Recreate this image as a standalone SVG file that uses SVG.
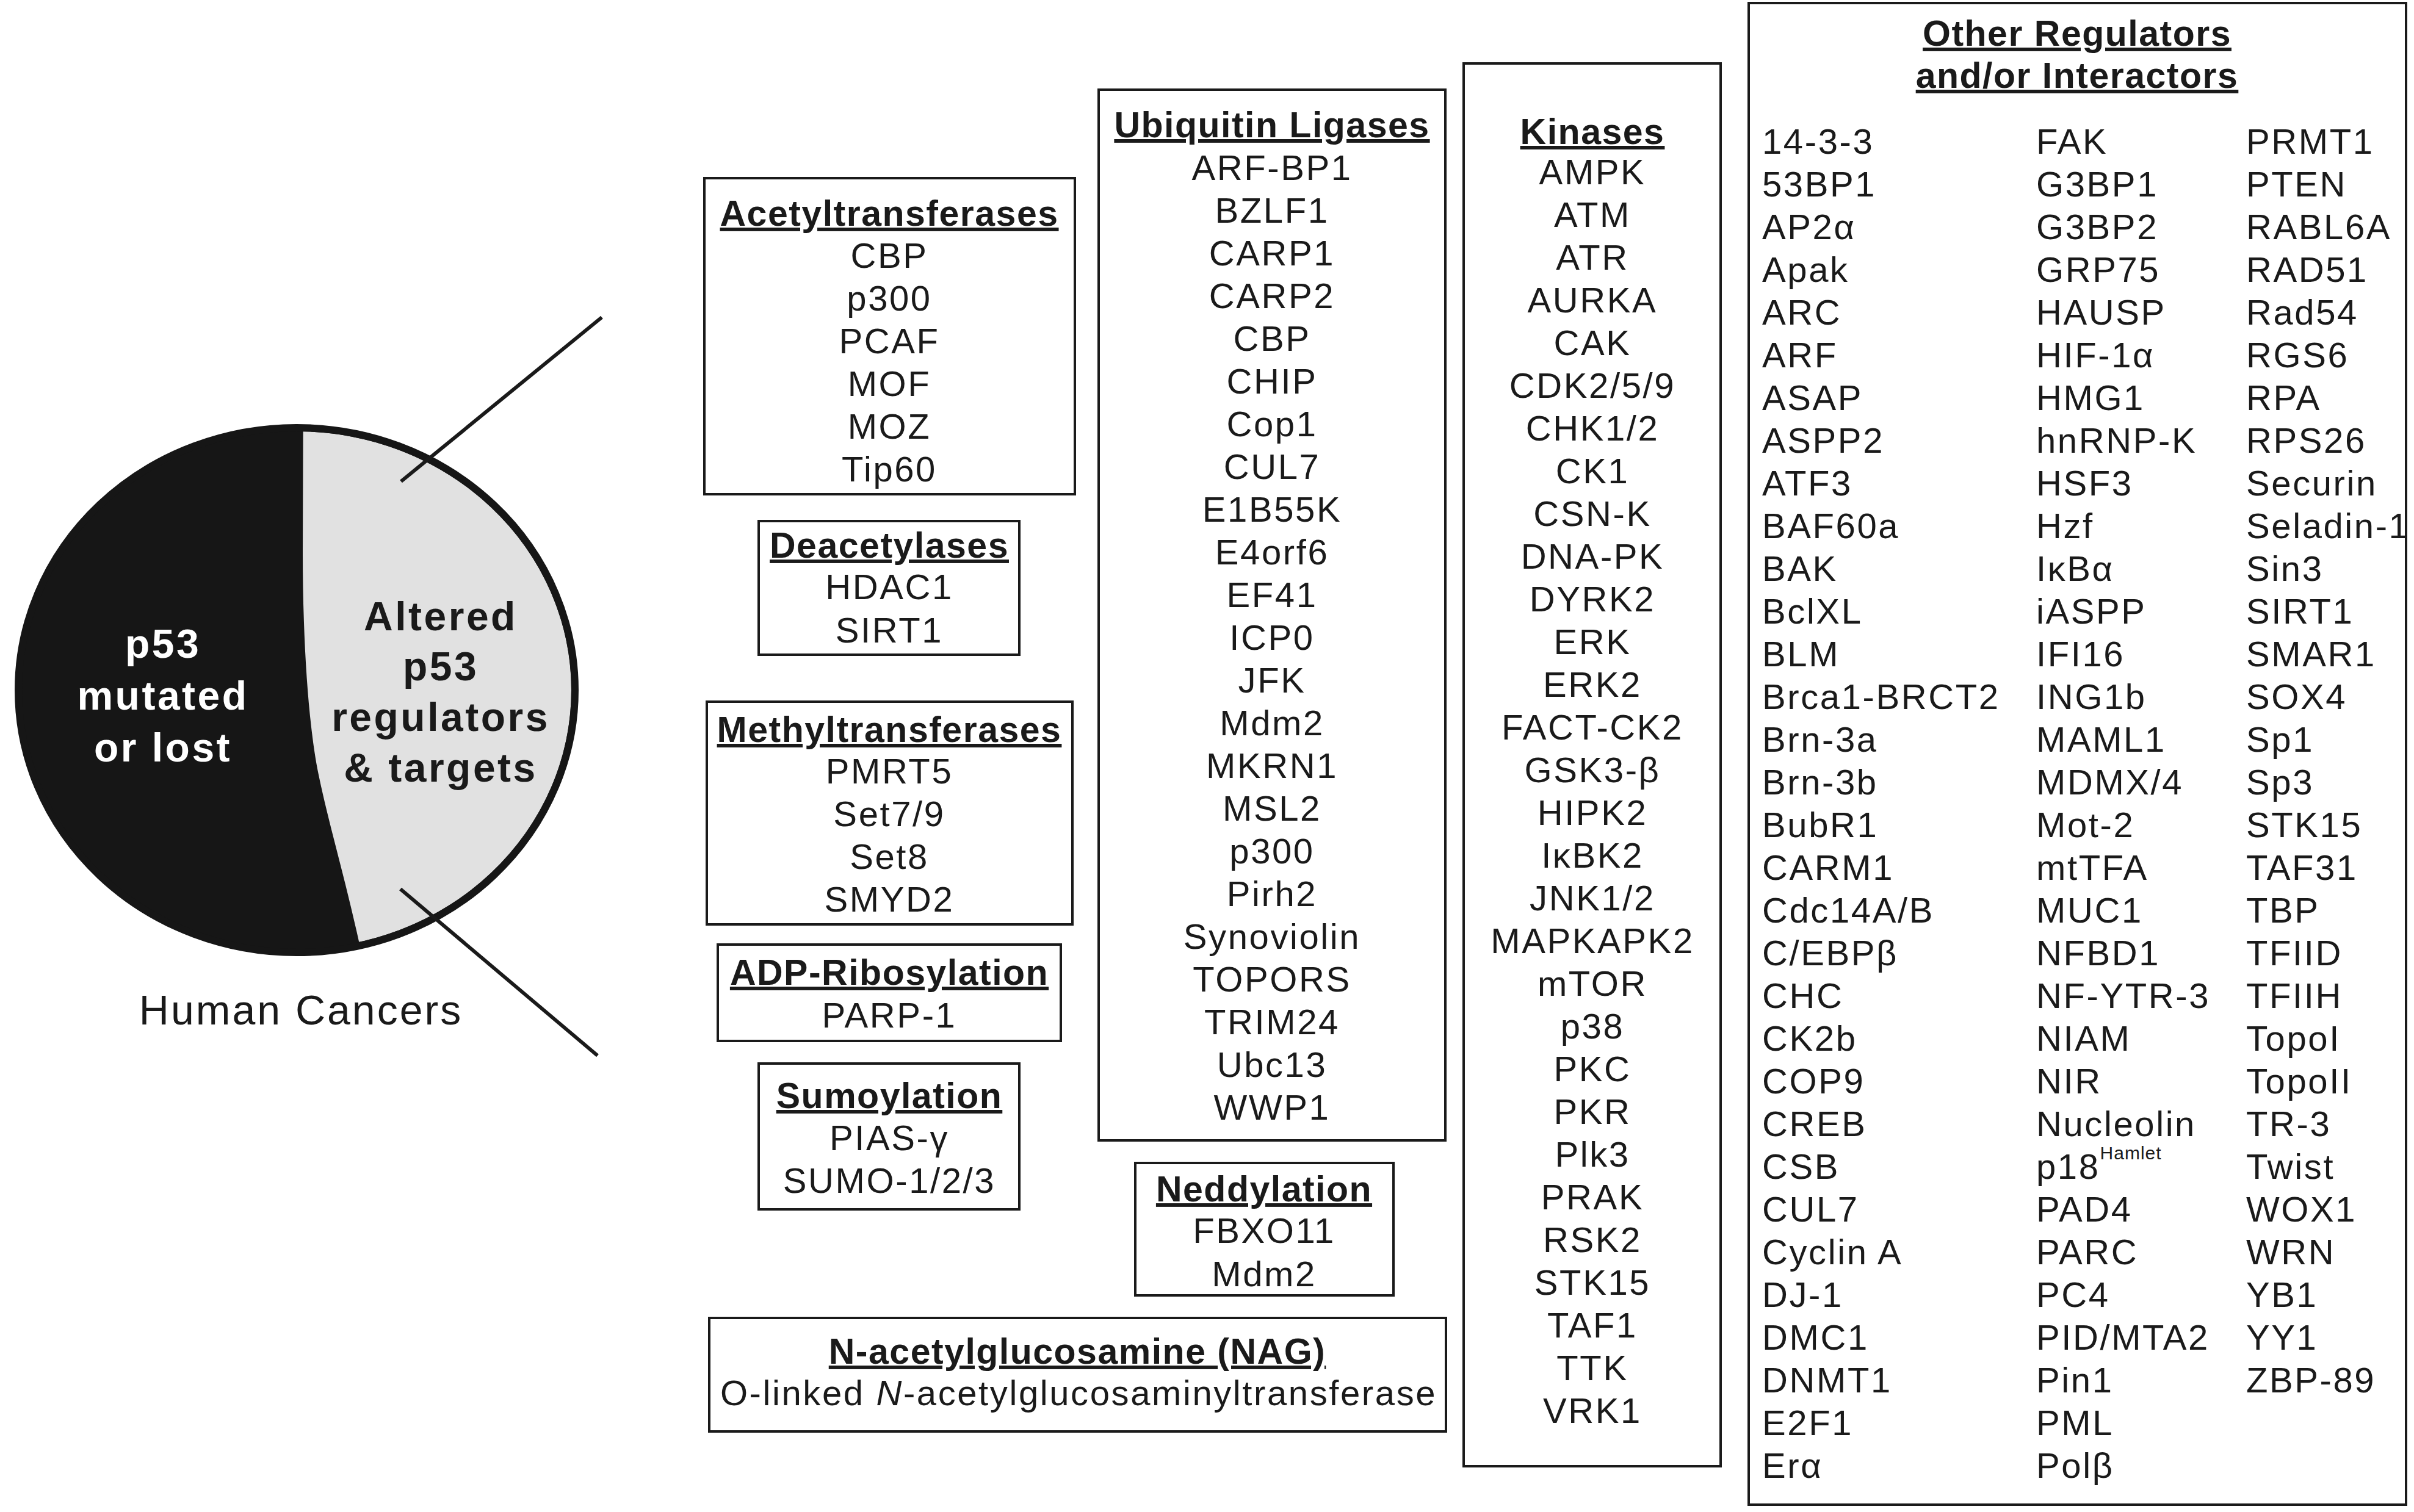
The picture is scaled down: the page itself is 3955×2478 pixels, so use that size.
<svg xmlns="http://www.w3.org/2000/svg" width="3955" height="2478" viewBox="0 0 3955 2478">
<defs>
<style>
.box{fill:none;stroke:#1a1a1a;stroke-width:4}
.t{font-family:"Liberation Sans",Arial,sans-serif;font-size:58px;letter-spacing:2.6px;fill:#1a1a1a}
.h{font-family:"Liberation Sans",Arial,sans-serif;font-size:59px;font-weight:bold;letter-spacing:1.5px;fill:#1a1a1a;text-decoration:underline}
.c{text-anchor:middle}
.pie{font-family:"Liberation Sans",Arial,sans-serif;font-size:66px;font-weight:bold;letter-spacing:3.5px;text-anchor:middle}
.conn{stroke:#1a1a1a;stroke-width:6;fill:none}
</style>
<clipPath id="inner"><ellipse cx="486" cy="1131" rx="450" ry="424"/></clipPath>
</defs>
<rect width="3955" height="2478" fill="#ffffff"/>

<g id="pie-chart">
<ellipse cx="486" cy="1131" rx="456" ry="430" fill="#161616"/>
<path d="M497,600 L496,905 C496,1050 505,1180 520,1260 C540,1360 570,1450 600,1600 L1000,1600 L1000,600 Z" fill="#e1e1e1" clip-path="url(#inner)"/>
<ellipse cx="486" cy="1131" rx="456" ry="430" fill="none" stroke="#161616" stroke-width="12"/>
<text class="pie" fill="#ffffff"><tspan x="267" y="1078">p53</tspan><tspan x="267" y="1163">mutated</tspan><tspan x="267" y="1248">or lost</tspan></text>
<text class="pie" fill="#1a1a1a"><tspan x="722" y="1033">Altered</tspan><tspan x="722" y="1115">p53</tspan><tspan x="722" y="1198">regulators</tspan><tspan x="722" y="1281">&amp; targets</tspan></text>
<text x="493" y="1679" class="c" font-family="Liberation Sans, Arial, sans-serif" font-size="68" letter-spacing="3" fill="#1a1a1a">Human Cancers</text>
</g>

<g id="connectors">
<line class="conn" x1="657" y1="789" x2="986" y2="520"/>
<line class="conn" x1="656" y1="1457" x2="979" y2="1730"/>
</g>

<g id="acetyltransferases">
<rect class="box" x="1154" y="292" width="607" height="518"/>
<text class="h c" x="1457" y="370">Acetyltransferases</text>
<text class="t c"><tspan x="1457" y="439">CBP</tspan><tspan x="1457" dy="70">p300</tspan><tspan x="1457" dy="70">PCAF</tspan><tspan x="1457" dy="70">MOF</tspan><tspan x="1457" dy="70">MOZ</tspan><tspan x="1457" dy="70">Tip60</tspan></text>
</g>

<g id="deacetylases">
<rect class="box" x="1243" y="854" width="427" height="219"/>
<text class="h c" x="1457" y="914">Deacetylases</text>
<text class="t c"><tspan x="1457" y="982">HDAC1</tspan><tspan x="1457" dy="71">SIRT1</tspan></text>
</g>

<g id="methyltransferases">
<rect class="box" x="1158" y="1150" width="599" height="365"/>
<text class="h c" x="1457" y="1216">Methyltransferases</text>
<text class="t c"><tspan x="1457" y="1284">PMRT5</tspan><tspan x="1457" dy="70">Set7/9</tspan><tspan x="1457" dy="70">Set8</tspan><tspan x="1457" dy="70">SMYD2</tspan></text>
</g>

<g id="adp-ribosylation">
<rect class="box" x="1176" y="1548" width="562" height="158"/>
<text class="h c" x="1457" y="1614">ADP-Ribosylation</text>
<text class="t c" x="1457" y="1684">PARP-1</text>
</g>

<g id="sumoylation">
<rect class="box" x="1243" y="1743" width="427" height="239"/>
<text class="h c" x="1457" y="1816">Sumoylation</text>
<text class="t c"><tspan x="1457" y="1885">PIAS-γ</tspan><tspan x="1457" dy="70">SUMO-1/2/3</tspan></text>
</g>

<g id="ubiquitin-ligases">
<rect class="box" x="1800" y="147" width="568" height="1722"/>
<text class="h c" x="2084" y="225">Ubiquitin Ligases</text>
<text class="t c"><tspan x="2084" y="295">ARF-BP1</tspan><tspan x="2084" dy="70">BZLF1</tspan><tspan x="2084" dy="70">CARP1</tspan><tspan x="2084" dy="70">CARP2</tspan><tspan x="2084" dy="70">CBP</tspan><tspan x="2084" dy="70">CHIP</tspan><tspan x="2084" dy="70">Cop1</tspan><tspan x="2084" dy="70">CUL7</tspan><tspan x="2084" dy="70">E1B55K</tspan><tspan x="2084" dy="70">E4orf6</tspan><tspan x="2084" dy="70">EF41</tspan><tspan x="2084" dy="70">ICP0</tspan><tspan x="2084" dy="70">JFK</tspan><tspan x="2084" dy="70">Mdm2</tspan><tspan x="2084" dy="70">MKRN1</tspan><tspan x="2084" dy="70">MSL2</tspan><tspan x="2084" dy="70">p300</tspan><tspan x="2084" dy="70">Pirh2</tspan><tspan x="2084" dy="70">Synoviolin</tspan><tspan x="2084" dy="70">TOPORS</tspan><tspan x="2084" dy="70">TRIM24</tspan><tspan x="2084" dy="70">Ubc13</tspan><tspan x="2084" dy="70">WWP1</tspan></text>
</g>

<g id="neddylation">
<rect class="box" x="1860" y="1906" width="423" height="217"/>
<text class="h c" x="2071" y="1969">Neddylation</text>
<text class="t c"><tspan x="2071" y="2037">FBXO11</tspan><tspan x="2071" dy="71">Mdm2</tspan></text>
</g>

<g id="nag">
<rect class="box" x="1162" y="2160" width="1207" height="186"/>
<text class="h c" x="1765" y="2235">N-acetylglucosamine (NAG)</text>
<text class="t c" x="1767" y="2303" letter-spacing="2.2">O-linked <tspan font-style="italic">N</tspan>-acetylglucosaminyltransferase</text>
</g>

<g id="kinases">
<rect class="box" x="2398" y="104" width="421" height="2299"/>
<text class="h c" x="2609" y="236">Kinases</text>
<text class="t c"><tspan x="2609" y="302">AMPK</tspan><tspan x="2609" dy="70">ATM</tspan><tspan x="2609" dy="70">ATR</tspan><tspan x="2609" dy="70">AURKA</tspan><tspan x="2609" dy="70">CAK</tspan><tspan x="2609" dy="70">CDK2/5/9</tspan><tspan x="2609" dy="70">CHK1/2</tspan><tspan x="2609" dy="70">CK1</tspan><tspan x="2609" dy="70">CSN-K</tspan><tspan x="2609" dy="70">DNA-PK</tspan><tspan x="2609" dy="70">DYRK2</tspan><tspan x="2609" dy="70">ERK</tspan><tspan x="2609" dy="70">ERK2</tspan><tspan x="2609" dy="70">FACT-CK2</tspan><tspan x="2609" dy="70">GSK3-β</tspan><tspan x="2609" dy="70">HIPK2</tspan><tspan x="2609" dy="70">IκBK2</tspan><tspan x="2609" dy="70">JNK1/2</tspan><tspan x="2609" dy="70">MAPKAPK2</tspan><tspan x="2609" dy="70">mTOR</tspan><tspan x="2609" dy="70">p38</tspan><tspan x="2609" dy="70">PKC</tspan><tspan x="2609" dy="70">PKR</tspan><tspan x="2609" dy="70">Plk3</tspan><tspan x="2609" dy="70">PRAK</tspan><tspan x="2609" dy="70">RSK2</tspan><tspan x="2609" dy="70">STK15</tspan><tspan x="2609" dy="70">TAF1</tspan><tspan x="2609" dy="70">TTK</tspan><tspan x="2609" dy="70">VRK1</tspan></text>
</g>

<g id="other-regulators">
<rect class="box" x="2865" y="5" width="1077" height="2461"/>
<text class="h c"><tspan x="3403" y="75">Other Regulators</tspan><tspan x="3403" y="144">and/or Interactors</tspan></text>
<text class="t"><tspan x="2887" y="252">14-3-3</tspan><tspan x="2887" dy="70">53BP1</tspan><tspan x="2887" dy="70">AP2α</tspan><tspan x="2887" dy="70">Apak</tspan><tspan x="2887" dy="70">ARC</tspan><tspan x="2887" dy="70">ARF</tspan><tspan x="2887" dy="70">ASAP</tspan><tspan x="2887" dy="70">ASPP2</tspan><tspan x="2887" dy="70">ATF3</tspan><tspan x="2887" dy="70">BAF60a</tspan><tspan x="2887" dy="70">BAK</tspan><tspan x="2887" dy="70">BclXL</tspan><tspan x="2887" dy="70">BLM</tspan><tspan x="2887" dy="70">Brca1-BRCT2</tspan><tspan x="2887" dy="70">Brn-3a</tspan><tspan x="2887" dy="70">Brn-3b</tspan><tspan x="2887" dy="70">BubR1</tspan><tspan x="2887" dy="70">CARM1</tspan><tspan x="2887" dy="70">Cdc14A/B</tspan><tspan x="2887" dy="70">C/EBPβ</tspan><tspan x="2887" dy="70">CHC</tspan><tspan x="2887" dy="70">CK2b</tspan><tspan x="2887" dy="70">COP9</tspan><tspan x="2887" dy="70">CREB</tspan><tspan x="2887" dy="70">CSB</tspan><tspan x="2887" dy="70">CUL7</tspan><tspan x="2887" dy="70">Cyclin A</tspan><tspan x="2887" dy="70">DJ-1</tspan><tspan x="2887" dy="70">DMC1</tspan><tspan x="2887" dy="70">DNMT1</tspan><tspan x="2887" dy="70">E2F1</tspan><tspan x="2887" dy="70">Erα</tspan></text>
<text class="t"><tspan x="3336" y="252">FAK</tspan><tspan x="3336" dy="70">G3BP1</tspan><tspan x="3336" dy="70">G3BP2</tspan><tspan x="3336" dy="70">GRP75</tspan><tspan x="3336" dy="70">HAUSP</tspan><tspan x="3336" dy="70">HIF-1α</tspan><tspan x="3336" dy="70">HMG1</tspan><tspan x="3336" dy="70">hnRNP-K</tspan><tspan x="3336" dy="70">HSF3</tspan><tspan x="3336" dy="70">Hzf</tspan><tspan x="3336" dy="70">IκBα</tspan><tspan x="3336" dy="70">iASPP</tspan><tspan x="3336" dy="70">IFI16</tspan><tspan x="3336" dy="70">ING1b</tspan><tspan x="3336" dy="70">MAML1</tspan><tspan x="3336" dy="70">MDMX/4</tspan><tspan x="3336" dy="70">Mot-2</tspan><tspan x="3336" dy="70">mtTFA</tspan><tspan x="3336" dy="70">MUC1</tspan><tspan x="3336" dy="70">NFBD1</tspan><tspan x="3336" dy="70">NF-YTR-3</tspan><tspan x="3336" dy="70">NIAM</tspan><tspan x="3336" dy="70">NIR</tspan><tspan x="3336" dy="70">Nucleolin</tspan><tspan x="3336" dy="70">p18</tspan><tspan font-size="30" letter-spacing="1" dy="-32">Hamlet</tspan><tspan x="3336" dy="102">PAD4</tspan><tspan x="3336" dy="70">PARC</tspan><tspan x="3336" dy="70">PC4</tspan><tspan x="3336" dy="70">PID/MTA2</tspan><tspan x="3336" dy="70">Pin1</tspan><tspan x="3336" dy="70">PML</tspan><tspan x="3336" dy="70">Polβ</tspan></text>
<text class="t"><tspan x="3680" y="252">PRMT1</tspan><tspan x="3680" dy="70">PTEN</tspan><tspan x="3680" dy="70">RABL6A</tspan><tspan x="3680" dy="70">RAD51</tspan><tspan x="3680" dy="70">Rad54</tspan><tspan x="3680" dy="70">RGS6</tspan><tspan x="3680" dy="70">RPA</tspan><tspan x="3680" dy="70">RPS26</tspan><tspan x="3680" dy="70">Securin</tspan><tspan x="3680" dy="70">Seladin-1</tspan><tspan x="3680" dy="70">Sin3</tspan><tspan x="3680" dy="70">SIRT1</tspan><tspan x="3680" dy="70">SMAR1</tspan><tspan x="3680" dy="70">SOX4</tspan><tspan x="3680" dy="70">Sp1</tspan><tspan x="3680" dy="70">Sp3</tspan><tspan x="3680" dy="70">STK15</tspan><tspan x="3680" dy="70">TAF31</tspan><tspan x="3680" dy="70">TBP</tspan><tspan x="3680" dy="70">TFIID</tspan><tspan x="3680" dy="70">TFIIH</tspan><tspan x="3680" dy="70">TopoI</tspan><tspan x="3680" dy="70">TopoII</tspan><tspan x="3680" dy="70">TR-3</tspan><tspan x="3680" dy="70">Twist</tspan><tspan x="3680" dy="70">WOX1</tspan><tspan x="3680" dy="70">WRN</tspan><tspan x="3680" dy="70">YB1</tspan><tspan x="3680" dy="70">YY1</tspan><tspan x="3680" dy="70">ZBP-89</tspan></text>
</g>
</svg>
